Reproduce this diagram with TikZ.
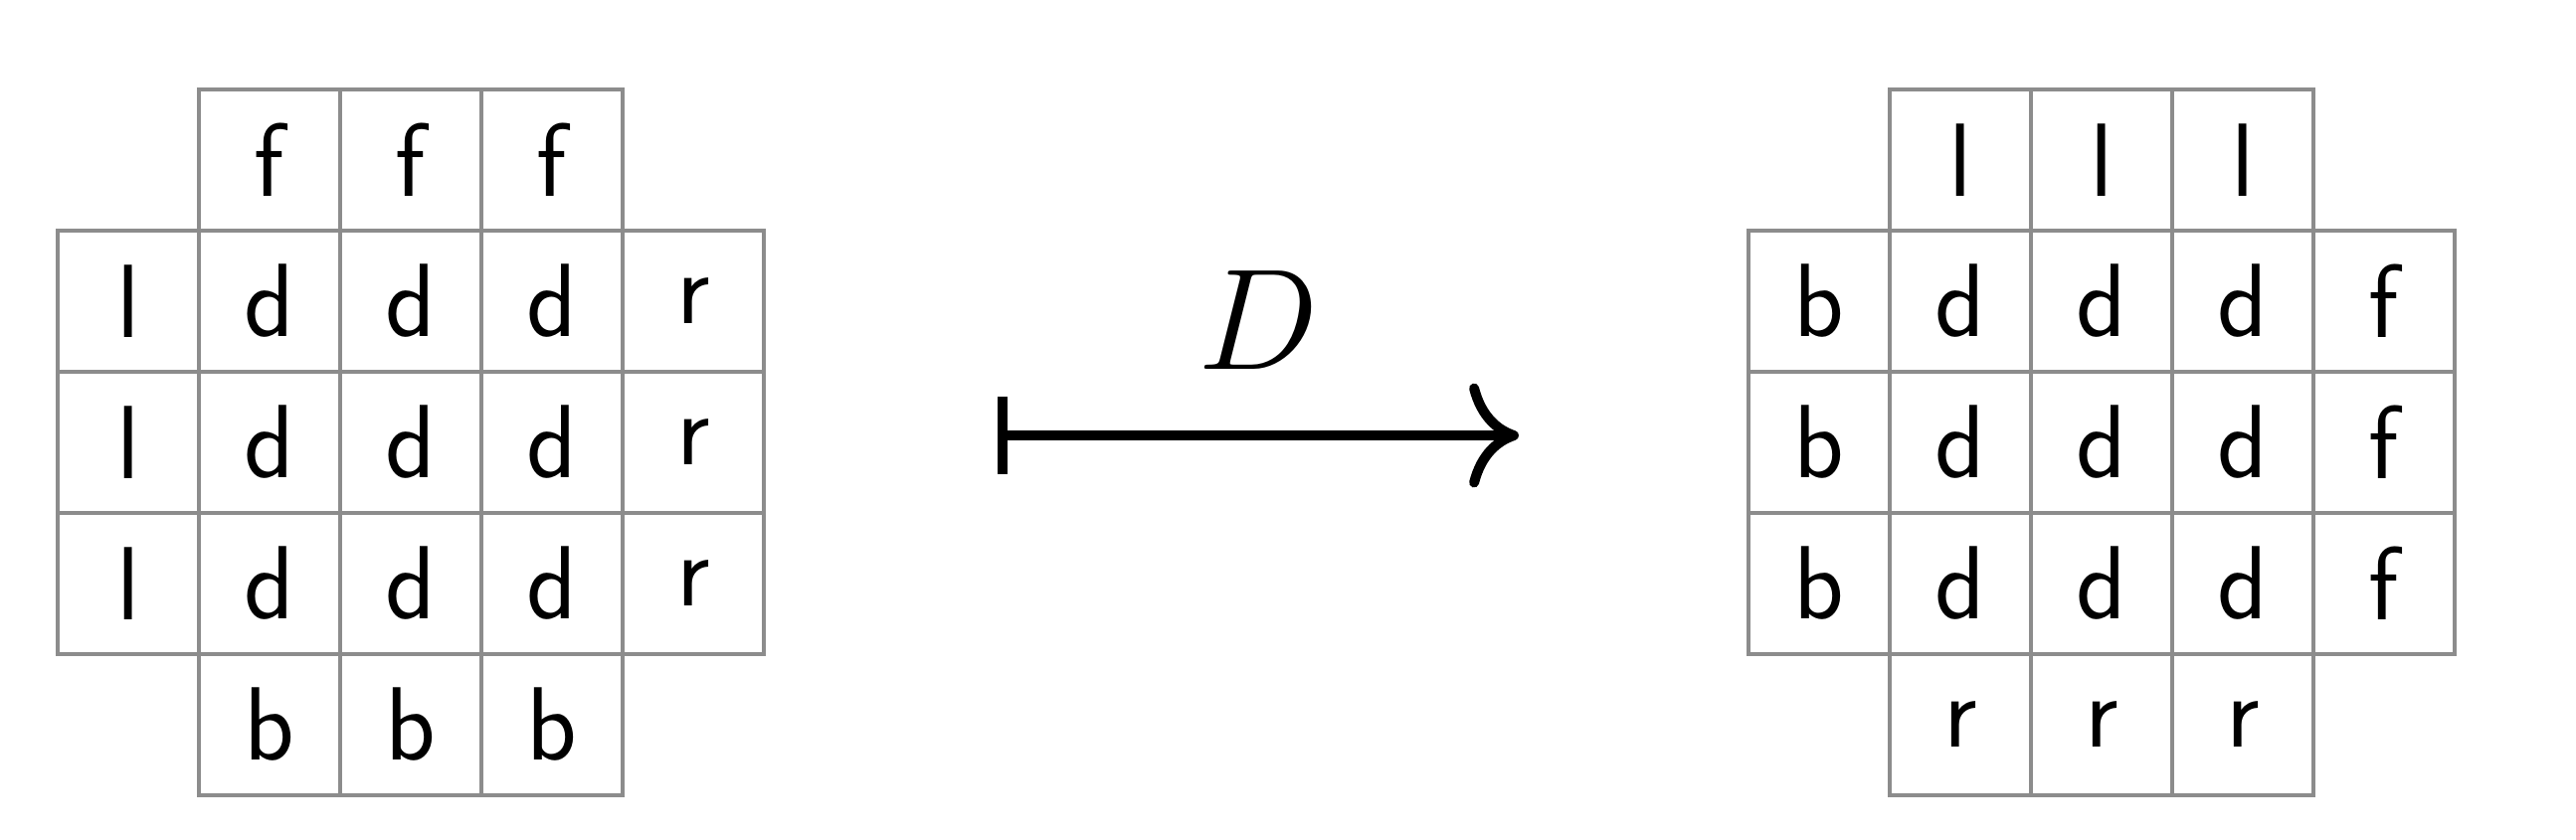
\RequirePackage{fix-cm}
\documentclass[tikz,border=0pt]{standalone}
\usetikzlibrary{arrows.meta}

\begin{document}
\begin{tikzpicture}[
    cell/.style={draw=black!45, line width=0.8pt, minimum size=1cm, inner sep=0pt,
        font=\sffamily\fontsize{21}{24}\selectfont},
    >=stealth
]
\useasboundingbox (0,0) rectangle (18.24,5.944);

% --- Left grid (before D) ---
\foreach \j in {1,2,3}
{
    \node[cell] (a0\j) at ({0.908+\j},4.81) {f};
    \node[cell] (a4\j) at ({0.908+\j},0.81) {b};
}
\foreach \i in {1,2,3}
{
    \node[cell] (a\i0) at (0.908,{4.81-\i}) {l};
    \foreach \j in {1,2,3}
        \node[cell] (a\i\j) at ({0.908+\j},{4.81-\i}) {d};
    \node[cell] (a\i4) at (4.908,{4.81-\i}) {r};
}

% --- Right grid (after D) ---
\foreach \j in {1,2,3}
{
    \node[cell] (b0\j) at ({12.88+\j},4.81) {l};
    \node[cell] (b4\j) at ({12.88+\j},0.81) {r};
}
\foreach \i in {1,2,3}
{
    \node[cell] (b\i0) at (12.88,{4.81-\i}) {b};
    \foreach \j in {1,2,3}
        \node[cell] (b\i\j) at ({12.88+\j},{4.81-\i}) {d};
    \node[cell] (b\i4) at (16.88,{4.81-\i}) {f};
}

% --- Map arrow and label ---
\coordinate (src) at (7.063,2.859);
\coordinate (dst) at (10.754,2.859);
\draw[line width=2pt, {Bar[width=15.5pt]}-{To[length=10pt,width=21pt]}] (src) -- node[above=0.43cm, inner sep=0pt, font=\fontsize{29}{32}\selectfont] (map) {$D$} (dst);

\end{tikzpicture}
\end{document}
